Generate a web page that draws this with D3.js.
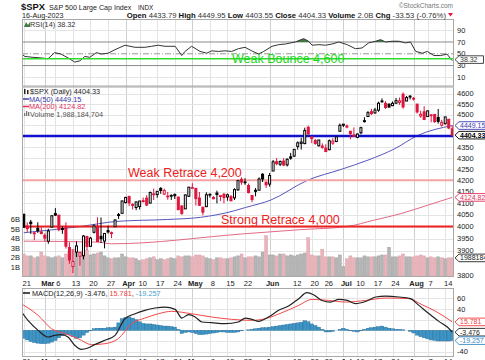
<!DOCTYPE html>
<html>
<head>
<meta charset="utf-8">
<script src="https://cdn.jsdelivr.net/npm/d3@7"></script>
<style>
  body { margin: 0; background: #fff; }
  svg { display: block; }
  text { font-family: "Liberation Sans", Arial, sans-serif; }
  .mono { font-family: "DejaVu Sans Mono", monospace; }
</style>
</head>
<body>
<svg id="chart" width="485" height="360"></svg>
<script>
var dates = ['Feb 21','Feb 22','Feb 23','Feb 24','Feb 27','Feb 28','Mar 1','Mar 2','Mar 3','Mar 6',
  'Mar 7','Mar 8','Mar 9','Mar 10','Mar 13','Mar 14','Mar 15','Mar 16','Mar 17','Mar 20',
  'Mar 21','Mar 22','Mar 23','Mar 24','Mar 27','Mar 28','Mar 29','Mar 30','Mar 31','Apr 3',
  'Apr 4','Apr 5','Apr 6','Apr 10','Apr 11','Apr 12','Apr 13','Apr 14','Apr 17','Apr 18',
  'Apr 19','Apr 20','Apr 21','Apr 24','Apr 25','Apr 26','Apr 27','Apr 28','May 1','May 2',
  'May 3','May 4','May 5','May 8','May 9','May 10','May 11','May 12','May 15','May 16',
  'May 17','May 18','May 19','May 22','May 23','May 24','May 25','May 26','May 30','May 31',
  'Jun 1','Jun 2','Jun 5','Jun 6','Jun 7','Jun 8','Jun 9','Jun 12','Jun 13','Jun 14',
  'Jun 15','Jun 16','Jun 20','Jun 21','Jun 22','Jun 23','Jun 26','Jun 27','Jun 28','Jun 29',
  'Jun 30','Jul 3','Jul 5','Jul 6','Jul 7','Jul 10','Jul 11','Jul 12','Jul 13','Jul 14',
  'Jul 17','Jul 18','Jul 19','Jul 20','Jul 21','Jul 24','Jul 25','Jul 26','Jul 27','Jul 28',
  'Jul 31','Aug 1','Aug 2','Aug 3','Aug 4','Aug 7','Aug 8','Aug 9','Aug 10','Aug 11',
  'Aug 14','Aug 15','Aug 16'];

var opens = [4052.35,4001.83,4018.60,3973.24,3992.36,3977.19,3963.34,3938.68,3998.02,4055.15,
  4048.26,3987.55,3998.66,3912.77,3835.12,3894.01,3876.74,3878.93,3958.69,3917.47,
  3975.89,4002.04,3959.21,3939.21,3982.93,3974.13,3999.53,4046.74,4056.18,4102.20,
  4128.03,4094.50,4081.15,4085.20,4110.29,4121.72,4100.04,4140.11,4137.17,4164.26,
  4139.33,4130.48,4132.14,4132.07,4126.43,4087.78,4075.29,4129.63,4166.79,4164.10,
  4122.25,4082.61,4084.73,4136.98,4124.25,4143.74,4132.24,4138.54,4126.65,4127.95,
  4122.85,4157.68,4204.15,4190.78,4176.80,4132.96,4155.71,4156.16,4226.71,4190.74,
  4183.03,4241.01,4282.99,4271.34,4285.47,4268.69,4304.88,4308.32,4352.61,4366.29,
  4365.33,4440.95,4396.11,4380.01,4355.40,4354.17,4344.84,4337.36,4367.48,4374.94,
  4422.44,4450.48,4442.04,4422.62,4404.54,4394.23,4415.55,4467.69,4491.50,4514.61,
  4508.86,4521.78,4563.87,4554.38,4550.16,4543.39,4555.19,4558.96,4598.26,4565.75,
  4584.82,4578.83,4550.93,4494.27,4513.96,4491.58,4498.03,4501.57,4487.16,4450.69,
  4458.13,4478.87,4433.79];
var highs = [4052.35,4017.37,4028.30,3978.25,4018.05,3997.50,3971.73,3990.84,4048.29,4078.49,
  4050.00,4000.41,4017.81,3934.05,3905.05,3937.29,3894.26,3964.46,3958.91,3956.62,
  4009.08,4039.49,4038.20,3972.74,4003.83,3979.20,4030.59,4057.85,4110.75,4127.66,
  4133.13,4099.69,4107.32,4109.50,4124.26,4134.37,4150.26,4163.19,4151.72,4169.48,
  4162.57,4148.57,4138.02,4142.41,4126.43,4089.67,4138.24,4170.06,4186.92,4164.10,
  4148.30,4082.61,4147.02,4142.30,4130.35,4154.28,4132.80,4143.74,4141.25,4135.54,
  4164.67,4202.20,4212.91,4209.22,4185.68,4132.96,4165.74,4212.87,4231.10,4195.44,
  4232.43,4290.67,4299.28,4288.33,4299.19,4298.01,4322.62,4340.13,4375.37,4391.82,
  4439.20,4448.47,4400.15,4386.22,4382.25,4366.55,4362.06,4384.42,4390.35,4398.39,
  4458.48,4456.46,4454.06,4422.62,4440.39,4412.60,4443.64,4488.34,4517.38,4527.76,
  4532.85,4562.30,4578.43,4564.74,4555.00,4563.41,4580.62,4582.47,4607.07,4590.16,
  4594.22,4584.62,4550.93,4519.49,4540.34,4519.84,4503.31,4502.44,4527.37,4476.23,
  4490.33,4478.87,4449.95];
var lows = [3995.19,3976.90,3969.19,3943.08,3973.55,3968.98,3939.05,3928.16,3995.17,4044.61,
  3980.31,3969.76,3908.70,3846.32,3808.86,3873.63,3838.24,3864.11,3901.27,3916.89,
  3971.19,3936.17,3931.35,3909.16,3970.49,3951.53,3999.53,4032.10,4056.18,4098.79,
  4086.87,4072.56,4069.84,4072.55,4102.61,4086.94,4099.40,4113.20,4123.18,4140.36,
  4134.49,4114.57,4113.86,4117.77,4071.38,4049.35,4075.29,4127.18,4164.12,4089.72,
  4088.86,4048.28,4084.73,4123.81,4116.65,4098.92,4109.29,4099.12,4110.27,4109.86,
  4113.62,4153.50,4180.20,4179.68,4142.54,4103.98,4129.73,4156.16,4192.18,4166.15,
  4171.64,4241.01,4266.82,4263.09,4263.96,4261.07,4291.70,4304.37,4337.85,4337.85,
  4362.60,4407.44,4367.19,4360.14,4351.82,4341.34,4328.08,4335.00,4360.22,4371.97,
  4422.44,4442.29,4436.61,4385.05,4397.40,4389.92,4408.46,4463.23,4489.36,4499.56,
  4504.90,4514.59,4557.48,4527.56,4535.79,4541.29,4552.42,4547.58,4528.56,4564.01,
  4573.14,4567.53,4505.75,4485.54,4474.55,4491.15,4464.39,4461.33,4457.92,4443.98,
  4453.44,4432.19,4403.55];
var closes = [3997.34,3991.05,4012.32,3970.04,3982.24,3970.15,3951.39,3981.35,4045.64,4048.42,
  3986.37,3992.01,3918.32,3861.59,3855.76,3919.29,3891.93,3960.28,3916.64,3951.57,
  4002.87,3936.97,3948.72,3970.99,3977.53,3971.27,4027.81,4050.83,4109.31,4124.51,
  4100.60,4090.38,4105.02,4109.11,4108.94,4091.95,4146.22,4137.64,4151.32,4154.87,
  4154.52,4129.79,4133.52,4137.04,4071.63,4055.99,4135.35,4169.48,4167.87,4119.58,
  4090.75,4061.22,4136.25,4138.12,4119.17,4137.64,4130.62,4124.08,4136.28,4109.90,
  4158.77,4198.05,4191.98,4192.63,4145.58,4115.24,4151.28,4205.45,4205.52,4179.83,
  4221.02,4282.37,4273.79,4283.85,4267.52,4293.93,4298.86,4338.93,4369.01,4372.59,
  4425.84,4409.59,4388.71,4365.69,4381.89,4348.33,4328.82,4378.41,4376.86,4396.44,
  4450.38,4455.59,4446.82,4411.59,4398.95,4409.53,4439.26,4472.16,4510.04,4505.42,
  4522.79,4554.98,4565.72,4534.87,4536.34,4554.64,4567.46,4566.75,4537.41,4582.23,
  4588.96,4576.73,4513.39,4501.89,4478.03,4518.44,4499.38,4467.71,4468.83,4464.05,
  4489.72,4437.86,4404.33];
// volume, billions of shares
var volumes = [2.4,2.2,2.2,2.0,2.1,2.6,2.2,2.1,2.0,2.1,
  2.2,2.0,2.4,2.6,2.9,2.6,2.7,2.4,2.8,2.3,
  2.4,2.5,2.6,2.2,2.0,1.9,2.0,2.0,2.4,2.1,
  2.0,2.0,1.9,1.7,1.8,1.9,2.0,2.1,1.8,1.9,
  1.8,1.9,2.0,1.9,2.2,2.1,2.2,2.2,2.1,2.3,
  2.3,2.2,2.0,1.9,1.8,2.0,2.0,1.9,1.9,2.0,
  2.1,2.2,2.4,2.0,2.1,2.1,2.2,2.1,2.6,4.3,
  2.3,2.3,2.2,2.4,2.4,2.2,2.3,2.2,2.3,2.4,
  2.5,4.1,2.3,2.2,2.2,2.9,2.1,2.1,2.1,2.0,
  2.3,1.1,1.9,2.2,2.0,2.0,2.0,2.2,2.1,2.1,
  2.1,2.2,2.3,2.3,3.1,2.1,2.1,2.2,2.4,2.1,
  2.1,2.1,2.2,2.3,2.2,2.0,2.1,2.0,2.1,2.0,
  1.9,2.0,1.988];

// moving averages: [trading day, value]
var ma50 = [[0,3974],[16,4000],[26.6,4022],[40.9,4030],[50.3,4039],[59.7,4066],[63.1,4081],
  [70.3,4113],[80.8,4200],[90.3,4248],[98,4290],[105.4,4340],[112.2,4403],[122,4449.15]];
var ma200 = [[0,3939],[21,3935],[25,3928],[63,3970],[78.8,3987],[92,4000],[99.7,4027],
  [107.4,4055],[115,4091],[122,4124.82]];

var rsi = [[-1.6,54],[0.3,45.5],[2.6,44],[4.9,43],[6.9,41.5],[8.8,52],[10.6,49.5],[12.6,43],
  [14.5,36],[16,38],[17.4,45.5],[18.8,44],[20.7,52],[22.1,49.5],[24,51],[26,57],[28.8,64.5],
  [31.7,61],[34.5,61],[36.4,62.7],[38.3,64.5],[40.2,62.7],[43.1,62.7],[45,47],[45.9,54],
  [47.8,62.7],[50.2,54],[52.1,51],[53.5,55],[55.4,54],[57.3,55],[59.2,54],[61.1,58.6],
  [63,61],[64.9,55],[66.9,49.5],[68.3,54],[70.7,62.7],[72.6,65.5],[74.5,66.6],[77.3,70],
  [79.7,75.7],[81.1,71.3],[82.1,64.5],[84,65.5],[85.9,64.5],[87.8,66.6],[89.7,70],
  [92.1,65.5],[94.4,58.6],[96.3,59.8],[98.2,68.4],[100.2,71.3],[101.6,74],[103,70],
  [104.9,71.3],[106.8,71.3],[108.7,68.4],[110.1,70],[111.6,54],[113.5,51],[114.9,54],
  [116.8,47],[118.7,47],[120.5,49.5],[122,38.32]];

var macdLine = [[-1.6,43.6],[1.2,18.7],[4.1,0],[6.9,-12.5],[8.8,-9.4],[10.7,-8],[12.6,-12.5],
  [14.5,-28],[16.4,-35.6],[18.3,-33],[20.2,-26.8],[23.1,-18.7],[26,-9.4],[28.8,21.8],
  [31.7,31],[34.5,37.5],[37.4,41.8],[40.2,43.6],[43.1,39.3],[45,23],[46.9,29.3],[48.8,25],
  [50.7,15.6],[53.5,14.3],[57.3,12.5],[61.1,15.6],[63.1,23],[64.9,20.6],[66.9,16.8],
  [69.7,25],[72.6,37.5],[75.4,45.5],[78.3,59.3],[80.6,70.5],[82.5,66.8],[84.9,56],
  [87.3,53],[89.7,58],[92.1,56],[94.5,50],[97.3,54],[100.2,62.4],[103,64],[106.8,62.4],
  [110.1,59.4],[112.5,46.8],[115.4,31],[118.2,16.8],[120.6,6.2],[122,-3.476]];
var signalLine = [[-1.6,53],[4.1,28],[7.9,3],[11.7,-6],[15.5,-15.6],[19.3,-26.8],[23.1,-25],
  [26.9,-15.6],[30.7,12.5],[34.5,23],[38.3,31],[42.1,35.6],[47.8,31],[53.5,25],[59.2,20.6],
  [64.9,18.7],[68.8,21.8],[73.5,33],[78.3,46.8],[82.1,58],[86.8,56],[91.6,53],[97.3,56],
  [103,60.5],[109.6,59.4],[113.4,48],[117.3,35.6],[122,15.781]];
var macdHist = [-15,-18,-21,-23,-24,-25,-25,-24,-22,-19,
  -14,-10,-8,-8,-12,-15,-14,-9,-4,-1,
  3,4,4,4,5,5,6,14,22,24,
  25,23,20,16,13,12,12,11,10,9,
  8,8,7,6,2,-6,-4,-3,-4,-6,
  -8,-8,-7,-6,-5,-4,-3,-3,-4,-4,
  -4,-3,-1,0,1,2,3,4,5,5,
  6,7,8,9,10,11,12,13,14,15,
  18,16,12,9,6,2,-3,-3,-2,0,
  2,4,2,-1,-2,-3,-1,2,4,5,
  6,7,8,6,4,3,2,2,1,0,
  -2,-5,-9,-12,-14,-16,-18,-19,-20,-20,
  -20,-20,-19.257];

var xTicks = [[0,'21'],[6,'Mar'],[9,'6'],[14,'13'],[19,'20'],[24,'27'],[29,'Apr'],[33,'10'],
  [38,'17'],[43,'24'],[48,'May'],[53,'8'],[58,'15'],[63,'22'],[70,'Jun'],[77,'12'],[82,'20'],
  [86,'26'],[91,'Jul'],[95,'10'],[100,'17'],[105,'24'],[111,'Aug'],[115,'7'],[120,'14']];
var monthTicks = ['Mar','Apr','May','Jun','Jul','Aug'];
var priceGrid = [3800,3850,3900,3950,4000,4050,4100,4150,4200,4250,4300,4350,4400,4450,4500,4550,4600];
var priceLabels = [3800,3900,3950,4000,4050,4100,4150,4200,4250,4300,4350,4500,4550,4600];
var volTicks = [1,2,3,4,5,6];
var rsiTicks = [10,30,50,70,90];
var macdGrid = [-40,-20,0,20,40,60];
var macdLabels = [-40,40,60];

var levels = [
  { value: 4400, color: '#1111cc', width: 2.5 },
  { value: 4200, color: '#f5a3a3', width: 2 },
  { value: 4000, color: '#ee2222', width: 2 }
];

var W = 485, L = 22, R = 454;
var rsiTop = 19, rsiBot = 86.5, pTop = 86.5, pBot = 277, mTop = 288, mBot = 357;
var up = '#000000', down = '#e0143c';

var svg = d3.select('#chart');
svg.append('rect').attr('width', W).attr('height', 360).attr('fill', '#fff');

var x = d3.scaleBand().domain(dates).range([L, R]);
var bw = x.bandwidth();
var xi = d3.scaleLinear().domain([0, dates.length - 1])
  .range([x(dates[0]) + bw / 2, x(dates[dates.length - 1]) + bw / 2]);
var y = d3.scaleLog().domain([3793, 4636]).range([pBot, pTop]);
var yv = d3.scaleLinear().domain([0, 6]).range([pBot, pBot - 57.6]);
var yr = d3.scaleLinear().domain([-5.5, 109]).range([rsiBot, rsiTop]);
var ym = d3.scaleLinear().domain([-40, 60]).range([351.7, 298.3]);

function clip(id, top, bot) {
  svg.append('clipPath').attr('id', id)
    .append('rect').attr('x', L).attr('y', top).attr('width', R - L).attr('height', bot - top);
}
clip('cr', rsiTop, rsiBot);
clip('cp', pTop, pBot);
clip('cm', mTop, mBot);

// grid
var grid = svg.append('g');
[[rsiTop, rsiBot], [pTop, pBot], [mTop, mBot]].forEach(function(p) {
  grid.selectAll(null).data(xTicks).enter().append('line')
    .attr('x1', function(d) { return Math.round(xi(d[0])) + 0.5; })
    .attr('x2', function(d) { return Math.round(xi(d[0])) + 0.5; })
    .attr('y1', p[0]).attr('y2', p[1])
    .attr('stroke', function(d) { return monthTicks.indexOf(d[1]) >= 0 ? '#cfcfcf' : '#e4e4e4'; });
});
function hgrid(vals, sc) {
  grid.selectAll(null).data(vals).enter().append('line')
    .attr('x1', L).attr('x2', R)
    .attr('y1', function(d) { return Math.round(sc(d)) + 0.5; })
    .attr('y2', function(d) { return Math.round(sc(d)) + 0.5; })
    .attr('stroke', '#e4e4e4');
}
hgrid(priceGrid, y);
hgrid([10, 90], yr);
hgrid(macdGrid, ym);

// ---- RSI panel
var gr = svg.append('g').attr('clip-path', 'url(#cr)');
gr.append('line').attr('x1', L).attr('x2', R).attr('y1', yr(70)).attr('y2', yr(70)).attr('stroke', '#8a8a8a');
gr.append('line').attr('x1', L).attr('x2', R).attr('y1', yr(30)).attr('y2', yr(30)).attr('stroke', '#8a8a8a');
gr.append('line').attr('x1', L).attr('x2', R).attr('y1', yr(50)).attr('y2', yr(50))
  .attr('stroke', '#999').attr('stroke-dasharray', '6,2,1,2');
svg.append('clipPath').attr('id', 'over70')
  .append('rect').attr('x', L).attr('y', rsiTop).attr('width', R - L).attr('height', yr(70) - rsiTop);
gr.append('path').datum(rsi)
  .attr('clip-path', 'url(#over70)')
  .attr('fill', '#3f7a45')
  .attr('d', d3.area().x(function(d) { return xi(d[0]); }).y0(yr(70)).y1(function(d) { return yr(d[1]); }));
gr.append('path').datum(rsi)
  .attr('fill', 'none').attr('stroke', '#333').attr('stroke-width', 1)
  .attr('d', d3.line().x(function(d) { return xi(d[0]); }).y(function(d) { return yr(d[1]); }));
svg.append('line').attr('x1', L).attr('x2', R).attr('y1', 58.7).attr('y2', 58.7)
  .attr('stroke', '#2fdc2f').attr('stroke-width', 1.5);
svg.append('text').attr('x', 232).attr('y', 63).attr('font-size', 12.5).attr('fill', '#19d619')
  .text('Weak Bounce 4,600');

// ---- price panel
var gp = svg.append('g').attr('clip-path', 'url(#cp)');
gp.selectAll('rect.vol').data(volumes).enter().append('rect')
  .attr('class', 'vol')
  .attr('x', function(d, i) { return x(dates[i]) + 0.25; })
  .attr('width', bw - 0.5)
  .attr('y', function(d) { return yv(d); })
  .attr('height', function(d) { return pBot - yv(d); })
  .attr('fill', function(d, i) { return i > 0 && closes[i] >= closes[i - 1] ? '#b5b5b5' : '#e9b3ba'; })
  .attr('stroke', function(d, i) { return i > 0 && closes[i] >= closes[i - 1] ? '#9c9c9c' : '#d99ba4'; })
  .attr('stroke-width', 0.4);

var maLine = d3.line().x(function(d) { return xi(d[0]); }).y(function(d) { return y(d[1]); }).curve(d3.curveMonotoneX);
gp.append('path').datum(ma200).attr('fill', 'none').attr('stroke', '#e46a84').attr('stroke-width', 1).attr('d', maLine);
gp.append('path').datum(ma50).attr('fill', 'none').attr('stroke', '#5656bd').attr('stroke-width', 1).attr('d', maLine);

gp.selectAll('line.lvl').data(levels).enter().append('line')
  .attr('class', 'lvl')
  .attr('x1', L).attr('x2', R)
  .attr('y1', function(d) { return y(d.value); }).attr('y2', function(d) { return y(d.value); })
  .attr('stroke', function(d) { return d.color; })
  .attr('stroke-width', function(d) { return d.width; });

function candleColor(i) { return i > 0 && closes[i] < closes[i - 1] ? down : up; }
var cg = gp.selectAll('g.candle').data(dates).enter().append('g').attr('class', 'candle');
cg.append('line')
  .attr('x1', function(d, i) { return xi(i); }).attr('x2', function(d, i) { return xi(i); })
  .attr('y1', function(d, i) { return y(highs[i]); })
  .attr('y2', function(d, i) { return y(lows[i]); })
  .attr('stroke', function(d, i) { return candleColor(i); });
cg.append('rect')
  .attr('x', function(d, i) { return xi(i) - 1; })
  .attr('width', 2)
  .attr('y', function(d, i) { return y(Math.max(opens[i], closes[i])); })
  .attr('height', function(d, i) { return Math.max(0.8, y(Math.min(opens[i], closes[i])) - y(Math.max(opens[i], closes[i]))); })
  .attr('fill', function(d, i) { return closes[i] > opens[i] ? '#fff' : candleColor(i); })
  .attr('stroke', function(d, i) { return candleColor(i); })
  .attr('stroke-width', 1);

svg.append('text').attr('x', 128).attr('y', y(4200) - 3.5).attr('font-size', 12.5).attr('fill', '#ee2020').text('Weak Retrace 4,200');
svg.append('text').attr('x', 221).attr('y', y(4000) - 2.5).attr('font-size', 12.5).attr('fill', '#ee2020').text('Strong Retrace 4,000');

// legends
var leg = svg.append('g').attr('class', 'mono').attr('font-size', 7.3);
leg.append('text').attr('x', 30).attr('y', 27).attr('fill', '#333').text('RSI(14) 38.32');
leg.append('path').attr('d', 'M24,27 L26,22 L28,25 L30,22 L30,27 Z').attr('fill', '#3f7a45');
leg.append('text').attr('x', 30).attr('y', 94).attr('fill', '#222').text('$SPX (Daily) 4404.33');
leg.append('rect').attr('x', 24).attr('y', 89).attr('width', 1.5).attr('height', 5).attr('fill', '#222');
leg.append('rect').attr('x', 27).attr('y', 90).attr('width', 1.5).attr('height', 4).attr('fill', '#222');
leg.append('line').attr('x1', 23).attr('x2', 29).attr('y1', 99).attr('y2', 99).attr('stroke', '#4040b0').attr('stroke-width', 1.5);
leg.append('text').attr('x', 29).attr('y', 101.5).attr('fill', '#3838a8').text('MA(50) 4449.15');
leg.append('line').attr('x1', 23).attr('x2', 29).attr('y1', 106.5).attr('y2', 106.5).attr('stroke', '#e0305a').attr('stroke-width', 1.5);
leg.append('text').attr('x', 29).attr('y', 109).attr('fill', '#e0305a').text('MA(200) 4124.82');
leg.append('path').attr('d', 'M24,116 v-3 h1.3 v3 M26,116 v-5 h1.3 v5 M28,116 v-4 h1.3 v4').attr('fill', '#777');
leg.append('text').attr('x', 30).attr('y', 116.5).attr('fill', '#555').text('Volume 1,988,184,704');
leg.append('line').attr('x1', 23).attr('x2', 30).attr('y1', 293).attr('y2', 293).attr('stroke', '#111').attr('stroke-width', 1.5);
var ml = leg.append('text').attr('x', 32).attr('y', 295.5);
ml.append('tspan').attr('fill', '#222').text('MACD(12,26,9) -3.476, ');
ml.append('tspan').attr('fill', '#f03c3c').text('15.781');
ml.append('tspan').attr('fill', '#222').text(', ');
ml.append('tspan').attr('fill', '#4aa0d0').text('-19.257');

// ---- MACD panel
var gm = svg.append('g').attr('clip-path', 'url(#cm)');
gm.selectAll('rect.hist').data(macdHist).enter().append('rect')
  .attr('class', 'hist')
  .attr('x', function(d, i) { return x(dates[i]); })
  .attr('width', bw)
  .attr('y', function(d) { return Math.min(ym(d), ym(0)); })
  .attr('height', function(d) { return Math.abs(ym(d) - ym(0)); })
  .attr('fill', '#3d94c6').attr('stroke', '#2a6d97').attr('stroke-width', 0.4);
var mLine = d3.line().x(function(d) { return xi(d[0]); }).y(function(d) { return ym(d[1]); }).curve(d3.curveMonotoneX);
gm.append('path').datum(signalLine).attr('fill', 'none').attr('stroke', '#f24848').attr('stroke-width', 1).attr('d', mLine);
gm.append('path').datum(macdLine).attr('fill', 'none').attr('stroke', '#222').attr('stroke-width', 1.2).attr('d', mLine);

// panel borders
[[rsiTop, rsiBot], [pTop, pBot], [mTop, mBot]].forEach(function(p) {
  svg.append('rect').attr('x', L + 0.5).attr('y', p[0] + 0.5).attr('width', R - L - 1).attr('height', p[1] - p[0] - 1)
    .attr('fill', 'none').attr('stroke', '#a8a8a8');
});

// axes labels
var ax = svg.append('g').attr('font-size', 7.5).attr('fill', '#222');
ax.selectAll(null).data(priceLabels).enter().append('text')
  .attr('x', 457).attr('y', function(d) { return y(d) + 2.6; }).text(function(d) { return d; });
ax.selectAll(null).data(rsiTicks).enter().append('text')
  .attr('x', 457).attr('y', function(d) { return yr(d) + 2.6; }).text(function(d) { return d; });
ax.selectAll(null).data(macdLabels).enter().append('text')
  .attr('x', 457).attr('y', function(d) { return ym(d) + 2.6; }).text(function(d) { return d; });
ax.selectAll(null).data(volTicks).enter().append('text')
  .attr('x', 20).attr('text-anchor', 'end').attr('y', function(d) { return yv(d) + 2.6; }).text(function(d) { return d + 'B'; });
[285.5, 364].forEach(function(yy) {
  ax.selectAll(null).data(xTicks).enter().append('text')
    .attr('x', function(d) { return xi(d[0]) + 3; })
    .attr('y', yy)
    .attr('text-anchor', 'middle')
    .attr('font-weight', function(d) { return monthTicks.indexOf(d[1]) >= 0 ? 'bold' : 'normal'; })
    .text(function(d) { return d[1]; });
});

function tag(yy, txt, color, weight) {
  var w = txt.length * 3.9 + 5;
  var g = svg.append('g');
  g.append('path')
    .attr('d', 'M455,' + yy + ' L459,' + (yy - 3.8) + ' H' + (459 + w) + ' V' + (yy + 3.8) + ' H459 Z')
    .attr('fill', '#fff').attr('stroke', color).attr('stroke-width', 0.9);
  g.append('text').attr('x', 460).attr('y', yy + 2.5).attr('font-size', 7)
    .attr('font-weight', weight || 'normal').attr('fill', color).text(txt);
}
tag(59.6, '38.32', '#333');
tag(y(4449.15), '4449.15', '#3c3cb4');
tag(y(4404.33), '4404.33', '#000', 'bold');
tag(y(4124.82), '4124.82', '#e0305a');
tag(yv(1.988), '1988184704', '#222');
tag(ym(15.781), '15.781', '#f03c3c');
tag(ym(-3.476), '-3.476', '#222');
tag(ym(-19.257), '-19.257', '#3a8cc4');

// header
var hd = svg.append('g');
hd.append('text').attr('x', 21).attr('y', 10).attr('font-size', 9.4).attr('font-weight', 'bold').attr('fill', '#111').text('$SPX');
hd.append('text').attr('x', 49).attr('y', 10).attr('font-size', 7.1).attr('fill', '#222').text('S&P 500 Large Cap Index');
hd.append('text').attr('x', 138).attr('y', 10).attr('font-size', 6.4).attr('fill', '#222').text('INDX');
hd.append('text').attr('x', 22).attr('y', 18).attr('font-size', 7.2).attr('fill', '#222').text('16-Aug-2023');
hd.append('text').attr('x', 453).attr('y', 7.5).attr('text-anchor', 'end').attr('font-size', 6.5).attr('fill', '#777').text('\u00a9StockCharts.com');
var q = hd.append('text').attr('x', 446).attr('y', 17.5).attr('text-anchor', 'end').attr('font-size', 7.7).attr('fill', '#333');
[['Open', '4433.79'], ['High', '4449.95'], ['Low', '4403.55'], ['Close', '4404.33'], ['Volume', '2.0B'], ['Chg', '-33.53 (-0.76%)']]
  .forEach(function(p, i) {
    q.append('tspan').attr('font-weight', 'bold').attr('fill', '#111').text((i ? '  ' : '') + p[0] + ' ');
    q.append('tspan').text(p[1]);
  });
hd.append('path').attr('d', 'M448,13 L453,13 L450.5,16.5 Z').attr('fill', '#e0143c');
</script>
</body>
</html>
